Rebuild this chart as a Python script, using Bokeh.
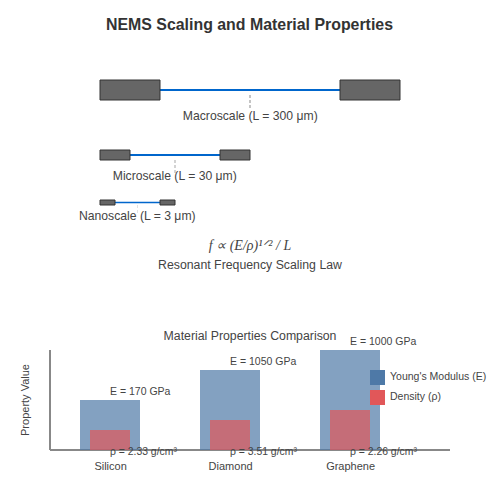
from bokeh.core.properties import value
from bokeh.embed import file_html
from bokeh.models import ColumnDataSource, Range1d
from bokeh.plotting import figure
from bokeh.resources import INLINE

# ---- data ----
scale_names = ["Macroscale", "Microscale", "Nanoscale"]
scale_lengths_um = [300, 30, 3]
scale_factor = [1.0, 0.5, 0.25]
scale_top = [80, 150, 200]
label_centre = [250.5, 175, 137.5]
label_baseline = [116, 176, 216]
drop_length = [15, 15, 10]
drop_width = [2, 1.5, 0.5]
beam_width = [2, 2, 1.5]

materials = ["Silicon", "Diamond", "Graphene"]
youngs_gpa = [170, 1050, 1000]
density_gcm3 = ["2.33", "3.51", "2.26"]
youngs_drawn = [50, 80, 100]
density_drawn = [20, 30, 40]
legend_names = ["Young's Modulus (E)", "Density (ρ)"]
legend_colors = ["#4e79a7", "#e15759"]

TXT = "#444444"
p = figure(width=500, height=500, output_backend="svg", toolbar_location=None,
           x_range=Range1d(0.5, 500.5), y_range=Range1d(500.5, 0.5),
           x_axis_location=None, y_axis_location=None, min_border=0,
           outline_line_color=None, background_fill_color="white",
           border_fill_color="white")
p.grid.visible = False
# second pair of scales for the bar chart: index / value (0 on the baseline)
p.extra_x_ranges["idx"] = Range1d(-109.5 / 120, 390.5 / 120)
p.extra_y_ranges["val"] = Range1d(-50.5, 449.5)


def text(x, y, s, size, color=TXT, align="center", font="Liberation Sans", style="normal", angle=0.0, **kw):
    p.text(x=x, y=y, text=s, text_font=value(font), text_font_size=size, text_color=color,
           text_align=align, text_baseline="alphabetic", text_font_style=style, angle=angle, **kw)


text([249.5], [24.5], ["NEMS Scaling and Material Properties"], "15.9px", color="#333333", style="bold")

# beam schematics
for name, L, f, top, cx, by, dl, dw, bw in zip(scale_names, scale_lengths_um, scale_factor, scale_top,
                                                label_centre, label_baseline, drop_length, drop_width, beam_width):
    aw, ah, bl = 60 * f, 20 * f, 180 * f
    left = 100
    mid = top + ah / 2
    bx = left + aw + bl / 2
    start = mid + ah / 4 if f == 1 else top + ah
    p.line([bx, bx], [start, start + dl], line_color="#c4c4c4", line_width=dw, line_dash=[3, 2])
    p.line([left + aw, left + aw + bl], [mid, mid], line_color="#0066cc", line_width=bw)
    p.quad(left=[left, left + aw + bl], right=[left + aw, left + 2 * aw + bl],
           top=[top, top], bottom=[top + ah, top + ah],
           fill_color="#666666", line_color="#333333", line_width=1, line_join="miter")
    text([cx], [by], [f"{name} (L = {L} μm)"], "12.2px")

text([250], [245], ["f ∝ (E/ρ)¹ᐟ² / L"], "14px", color="#444444", font="Liberation Serif", style="italic")
text([250], [265], ["Resonant Frequency Scaling Law"], "12.3px")
text([250], [336], ["Material Properties Comparison"], "12.3px")

# axes
p.line([-0.5, -0.5], [0, 100], x_range_name="idx", y_range_name="val", line_color="#888888", line_width=2)
p.line([-0.5, 2.8333], [0, 0], x_range_name="idx", y_range_name="val", line_color="#888888", line_width=2)

idx = list(range(len(materials)))
src = ColumnDataSource(dict(x=idx, e=youngs_drawn, d=density_drawn))
p.vbar(x="x", top="e", bottom=0, width=0.5, source=src, x_range_name="idx", y_range_name="val",
       fill_color=legend_colors[0], fill_alpha=0.7, line_color=None)
p.vbar(x="x", top="d", bottom=0, width=1 / 3, source=src, x_range_name="idx", y_range_name="val",
       fill_color=legend_colors[1], fill_alpha=0.7, line_color=None)

text(idx, [v + 9 for v in youngs_drawn], [f"E = {v} GPa" for v in youngs_gpa], "10.5px", align="left",
     x_range_name="idx", y_range_name="val")
text(idx, [-1] * 3, [f"ρ = {v} g/cm³" for v in density_gcm3], "10.4px", align="left",
     x_range_name="idx", y_range_name="val")
text([i + 0.005 for i in idx], [-16] * 3, materials, "11px", x_range_name="idx", y_range_name="val")
text([25], [400], ["Property Value"], "11px", angle=1.5708)

# legend
p.quad(left=[370, 370], right=[385, 385], top=[370, 390], bottom=[385, 405],
       fill_color=legend_colors, line_color=None, line_join="miter")
text([390, 390], [376, 396], legend_names, "10.5px", align="left")

open("out.html", "w").write(file_html(p, INLINE))
